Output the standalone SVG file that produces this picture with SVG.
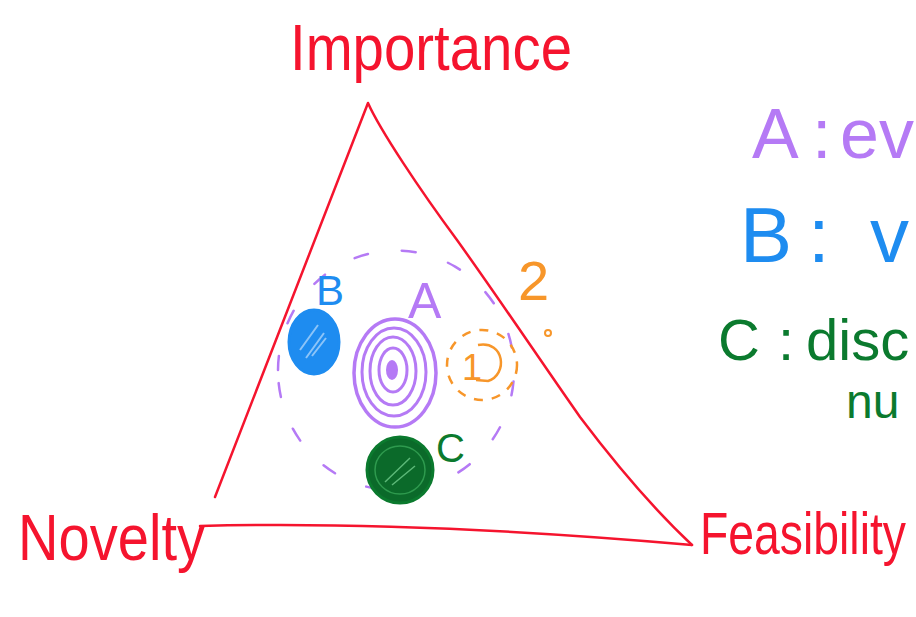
<svg xmlns="http://www.w3.org/2000/svg" width="916" height="617" viewBox="0 0 916 617">
<style>
.hand{font-family:"Liberation Sans","DejaVu Sans",sans-serif;}
.red{fill:#f5142e;}
.rl{fill:none;stroke:#f5142e;stroke-width:2.5;stroke-linecap:round;stroke-linejoin:round;}
.pur{fill:#b57af5;}
.blu{fill:#1e8cf0;}
.grn{fill:#0b7a2e;}
.org{fill:#f7962a;}
</style>
<rect width="916" height="617" fill="#ffffff"/>
<g id="connectors">
  <path class="rl" d="M215,497 C250,410 300,280 368,103 C380,130 420,190 457,240 C500,300 540,360 580,417 C620,470 660,515 692,545"/>
  <path class="rl" d="M200,526 C350,522 520,530 692,545"/>
  <path d="M278,370 A118,120 0 1 1 278,371" fill="none" stroke="#b57af5" stroke-width="2.5" stroke-dasharray="14 34" stroke-linecap="round"/>
</g>
<g id="importance"><text class="hand red" x="290" y="70" font-size="64" textLength="282" lengthAdjust="spacingAndGlyphs">Importance</text></g>
<g id="novelty"><text class="hand red" x="18" y="560" font-size="64" textLength="187" lengthAdjust="spacingAndGlyphs">Novelty</text></g>
<g id="feasibility"><text class="hand red" transform="translate(700,554) scale(1,1.25)" x="0" y="0" font-size="47" textLength="206" lengthAdjust="spacingAndGlyphs">Feasibility</text></g>
<g id="nodeB">
  <ellipse cx="314" cy="342" rx="25" ry="32" fill="#1e8cf0" stroke="#1e8cf0" stroke-width="3"/>
  <path d="M300,350 L318,325 M306,358 L324,333 M312,356 L326,338" stroke="#8cc4f8" stroke-width="2" fill="none"/>
  <text class="hand blu" x="316" y="305" font-size="42">B</text>
</g>
<g id="nodeA">
  <ellipse cx="395" cy="373" rx="41" ry="54" fill="none" stroke="#b57af5" stroke-width="3.5"/>
  <ellipse cx="394" cy="372" rx="32" ry="44" fill="none" stroke="#b57af5" stroke-width="3"/>
  <ellipse cx="393" cy="371" rx="23" ry="34" fill="none" stroke="#b57af5" stroke-width="3"/>
  <ellipse cx="393" cy="370" rx="14" ry="22" fill="none" stroke="#b57af5" stroke-width="3"/>
  <ellipse cx="392" cy="370" rx="6" ry="10" fill="#b57af5"/>
  <text class="hand pur" x="408" y="318" font-size="50">A</text>
</g>
<g id="node1">
  <circle cx="482" cy="365" r="35" fill="none" stroke="#f7962a" stroke-width="2.5" stroke-dasharray="9 9"/>
  <text class="hand org" x="462" y="380" font-size="36">1</text>
  <path d="M478,345 C505,340 508,375 488,381 L476,380" fill="none" stroke="#f7962a" stroke-width="2.5"/>
  <text class="hand org" x="518" y="300" font-size="56">2</text>
  <circle cx="548" cy="333" r="3" fill="none" stroke="#f7962a" stroke-width="2"/>
</g>
<g id="nodeC">
  <ellipse cx="400" cy="470" rx="33" ry="33" fill="#0b6a2a" stroke="#0b7a2e" stroke-width="3"/>
  <ellipse cx="400" cy="470" rx="25" ry="24" fill="none" stroke="#2e9a4e" stroke-width="1.5"/>
  <path d="M385,482 L410,458 M392,485 L415,466" stroke="#5cb878" stroke-width="1.5" fill="none"/>
  <text class="hand grn" x="436" y="462" font-size="40">C</text>
</g>
<g id="legend">
  <text class="hand pur" font-size="70"><tspan x="752" y="158">A</tspan><tspan x="812" y="158">:</tspan><tspan x="840" y="158">ev</tspan></text>
  <text class="hand blu" font-size="78"><tspan x="740" y="262">B</tspan><tspan x="808" y="262">:</tspan><tspan x="870" y="262">v</tspan></text>
  <text class="hand grn" font-size="58"><tspan x="718" y="360">C</tspan><tspan x="778" y="360">:</tspan><tspan x="806" y="360">disc</tspan></text>
  <text class="hand grn" x="846" y="418" font-size="48">nu</text>
</g>
</svg>
